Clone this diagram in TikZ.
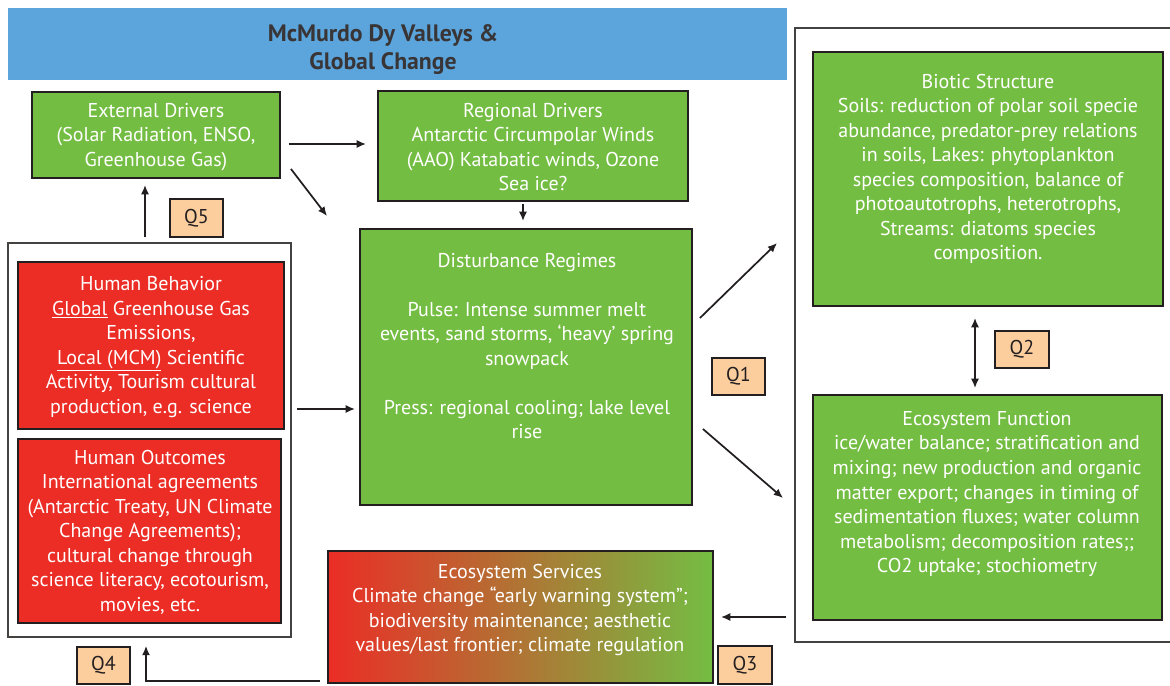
\documentclass[tikz,border=0pt]{standalone}
\usepackage{fontspec}
\setmainfont{PT Sans}
\usetikzlibrary{arrows.meta,calc,fit}
\definecolor{boxgreen}{RGB}{116,189,67}
\definecolor{boxred}{RGB}{235,45,38}
\definecolor{gradmid}{RGB}{200,140,50}
\definecolor{qpeach}{RGB}{252,206,158}
\definecolor{titleblue}{RGB}{91,165,220}
\definecolor{border}{RGB}{35,31,32}
\newcommand\bodyfont{\fontsize{15}{18.4}\selectfont}
\newcommand\titlefont{\fontsize{17.8}{21}\selectfont\bfseries}
\begin{document}
\begin{tikzpicture}[x=0.75pt,y=-0.75pt,
  gbox/.style={draw=border,line width=1.4pt,fill=boxgreen,inner sep=0pt},
  rbox/.style={draw=border,line width=1.4pt,fill=boxred,inner sep=0pt},
  obox/.style={draw=border!85,line width=1.1pt,inner sep=0pt},
  qbox/.style={draw=border,line width=1.2pt,fill=qpeach,inner sep=0pt,text=border,font=\bodyfont},
  txt/.style={text=white,align=center,font=\bodyfont,inner sep=0pt},
  arr/.style={draw=border,line width=1.3pt,-{Latex[length=7pt,width=6pt]}},
  darr/.style={draw=border,line width=1.3pt,{Latex[length=7pt,width=6pt]}-{Latex[length=7pt,width=6pt]}}]
\useasboundingbox (0,0) rectangle (1170,685);

% title
\node[fill=titleblue,inner sep=0pt,fit={(8,8)(787,80)}] (title) {};
\node[align=center,font=\titlefont,text=border!90,inner sep=0pt] (titleT) at (383,50) {McMurdo Dy Valleys \&\\Global Change};

% outline boxes
\node[obox,fit={(8,243)(291,637)}] (humans) {};
\node[obox,fit={(795,28)(1172,642)}] (eco) {};

% green boxes
\node[gbox,fit={(32,92)(280,178)}] (ext) {};
\node[txt] (extT) at (156,137) {External Drivers\\(Solar Radiation, ENSO,\\Greenhouse Gas)};

\node[gbox,fit={(378,91)(688,201)}] (reg) {};
\node[txt] (regT) at (533,147) {Regional Drivers\\Antarctic Circumpolar Winds\\(AAO) Katabatic winds, Ozone\\Sea ice?};

\node[gbox,fit={(360,229)(692,505)}] (dist) {};
\node[txt] (distT) at (527,346) {Disturbance Regimes\\[18.4pt]Pulse: Intense summer melt\\events, sand storms, ‘heavy’ spring\\snowpack\\[18.4pt]Press: regional cooling; lake level\\rise};

\node[gbox,fit={(813,52)(1163,306)}] (bio) {};
\node[txt] (bioT) at (988,169) {Biotic Structure\\Soils: reduction of polar soil specie\\abundance, predator-prey relations\\in soils, Lakes: phytoplankton\\species composition, balance of\\photoautotrophs, heterotrophs,\\Streams: diatoms species\\composition.};

\node[gbox,fit={(813,395)(1162,620)}] (ef) {};
\node[txt] (efT) at (987,494) {Ecosystem Function\\ice/water balance; stratification and\\mixing; new production and organic\\matter export; changes in timing of\\sedimentation fluxes; water column\\metabolism; decomposition rates;;\\CO2 uptake; stochiometry};

% red boxes
\node[rbox,fit={(18,262)(284,429)}] (hb) {};
\node[txt] (hbT) at (151,347) {Human Behavior\\\underline{Global} Greenhouse Gas\\Emissions,\\\underline{Local (MCM)} Scientific\\Activity, Tourism cultural\\production, e.g. science};

\node[rbox,fit={(18,439)(281,623)}] (ho) {};
\node[txt] (hoT) at (150,532) {Human Outcomes\\International agreements\\(Antarctic Treaty, UN Climate\\Change Agreements);\\cultural change through\\science literacy, ecotourism,\\movies, etc.};

% gradient box
\node[draw=border,line width=1.4pt,inner sep=0pt,left color=boxred,middle color=gradmid,right color=boxgreen,fit={(328,551)(713,683)}] (es) {};
\node[txt] (esT) at (520,610) {Ecosystem Services\\Climate change “early warning system”;\\biodiversity maintenance; aesthetic\\values/last frontier; climate regulation};

% question boxes
\node[qbox,minimum width=39.75pt,minimum height=27.75pt] (q1) at (738.5,376.5) {Q1};
\node[qbox,minimum width=40.5pt,minimum height=27.75pt] (q2) at (1022,349.5) {Q2};
\node[qbox,minimum width=40.5pt,minimum height=28.5pt] (q3) at (745,665) {Q3};
\node[qbox,minimum width=39.75pt,minimum height=27.75pt] (q4) at (103.5,665.5) {Q4};
\node[qbox,minimum width=39.75pt,minimum height=28.5pt] (q5) at (196.5,218) {Q5};

% connectors
\draw[arr] ($(ext.east)+(8,9)$) -- ($(reg.west|-ext.east)+(-11,9)$);
\draw[arr] ($(ext.south east)+(10,-10)$) -- ($(dist.north west)+(-32,-12)$);
\draw[arr] ($(reg.south)+(-10,2)$) -- ($(dist.north)+(-3,-7)$);
\draw[arr] ($(humans.north)+(-4.5,-5)$) -- ($(humans.north|-ext.south)+(-4.5,6)$);
\draw[arr] ($(hb.east)+(12,63.5)$) -- ($(dist.west|-hb.east)+(-4,63.5)$);
\draw[arr] ($(dist.east)+(7,-49)$) -- ($(bio.west)+(-35,64)$);
\draw[arr] ($(dist.east)+(10,62)$) -- ($(ef.west)+(-29,-9.5)$);
\draw[darr] ($(bio.south)+(-13,11)$) -- ($(ef.north)+(-12.5,-6)$);
\draw[arr] ($(eco.west|-es.east)+(-8,0)$) -- ($(es.east)+(7,0)$);
\draw[arr] ($(es.south west)+(-7,-3)$) -| ($(humans.south)+(-3.5,8)$);
\end{tikzpicture}
\end{document}
